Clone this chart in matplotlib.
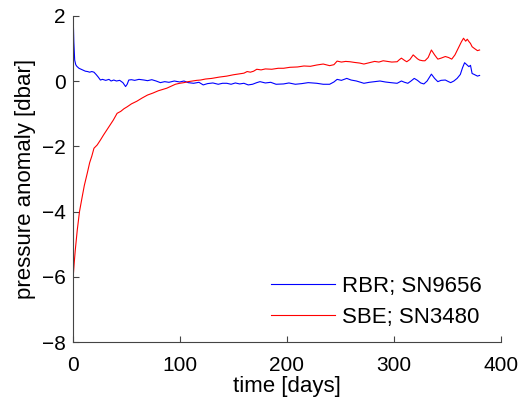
import matplotlib
matplotlib.use("Agg")
import matplotlib.pyplot as plt
import numpy as np

plt.rcParams['font.family'] = ['Liberation Sans', 'DejaVu Sans']

# RBR; SN9656
t_rbr = [0, 0.6, 1.2, 2, 3, 4, 6, 8, 10, 12, 14, 16, 18, 20, 22, 24, 26, 28, 31, 34, 36,
         38.5, 41, 44, 47, 49.5, 51, 52.5, 55, 58, 62, 66.7, 70, 74, 78, 82, 86, 90, 95, 100,
         104, 108, 113, 118, 122, 126, 131, 136, 140, 144, 148, 152, 156, 160, 164, 168,
         172, 175, 180, 185, 190, 197, 202, 208, 214, 220, 228, 234, 240, 244, 247, 251,
         256, 260, 265, 272, 277, 282, 287, 292, 297, 303, 307, 310, 313, 316, 319, 322,
         325, 328, 331, 335, 338, 341, 344, 348, 351, 353, 356, 359, 362, 364, 366, 368,
         370, 371.5, 373, 375, 378, 380]
v_rbr = [2.0, 1.97, 1.2, 0.64, 0.5, 0.45, 0.39, 0.36, 0.33, 0.3, 0.29, 0.27, 0.29, 0.27, 0.2,
         0.12, 0.03, 0.05, 0.02, 0.05, 0.0, 0.03, 0.0, 0.02, -0.05, -0.17, -0.1, 0.03, 0.04,
         0.02, 0.05, 0.03, 0.01, 0.04, 0.0, -0.05, -0.02, -0.04, 0.0, -0.03, 0.0, -0.05, -0.07,
         -0.04, -0.12, -0.08, -0.06, -0.1, -0.07, -0.07, -0.1, -0.06, -0.09, -0.07, -0.12,
         -0.1, -0.05, -0.02, -0.06, -0.04, -0.1, -0.09, -0.06, -0.1, -0.08, -0.05, -0.07,
         -0.1, -0.1, -0.03, 0.05, 0.02, 0.08, 0.03, 0.0, -0.07, -0.04, -0.02, 0.0, -0.03,
         -0.05, -0.07, 0.0, -0.04, -0.07, 0.0, 0.08, 0.02, -0.06, -0.09, 0.0, 0.21, 0.08,
         -0.02, 0.02, 0.03, -0.02, -0.05, 0.0, 0.08, 0.2, 0.4, 0.56, 0.5, 0.44, 0.48, 0.23,
         0.2, 0.15, 0.17]

# SBE; SN3480
t_sbe = [0, 0.6, 1.5, 2.5, 4.4, 6.5, 9, 11, 13.7, 16, 18, 20, 23, 26, 29, 32, 35, 38,
         41.6, 45, 48, 51, 55, 60, 65, 70, 75, 80, 84, 88, 92, 96, 100, 104, 108, 112,
         116, 119.6, 124, 130, 137, 144, 150, 156, 160, 163, 166, 169, 172, 176, 180, 186,
         192, 197, 203, 210, 216, 222, 228, 234, 240, 244, 247, 251, 255, 259, 263, 268,
         272, 277, 282, 286, 290, 294, 298, 303, 305, 307, 310, 312, 315, 318, 320, 322,
         324, 327, 329, 332, 335, 338, 341, 344, 348, 351, 354, 357, 360, 363, 365, 367,
         368.5, 370, 371.5, 373, 375, 378, 380]
v_sbe = [-6.0, -6.0, -5.6, -5.2, -4.57, -4.0, -3.55, -3.2, -2.83, -2.5, -2.3, -2.06, -1.96,
         -1.81, -1.65, -1.5, -1.35, -1.2, -0.99, -0.93, -0.85, -0.79, -0.7, -0.62, -0.52,
         -0.43, -0.37, -0.3, -0.26, -0.22, -0.16, -0.1, -0.07, -0.05, -0.02, 0.0, 0.02, 0.03,
         0.06, 0.08, 0.12, 0.15, 0.19, 0.22, 0.24, 0.29, 0.27, 0.3, 0.36, 0.34, 0.37, 0.36,
         0.39, 0.39, 0.42, 0.43, 0.46, 0.45, 0.49, 0.52, 0.47, 0.5, 0.61, 0.58, 0.6, 0.59,
         0.57, 0.55, 0.52, 0.56, 0.6, 0.58, 0.62, 0.6, 0.58, 0.59, 0.65, 0.7, 0.63, 0.59,
         0.66, 0.8, 0.74, 0.68, 0.64, 0.62, 0.62, 0.72, 0.95, 0.8, 0.67, 0.7, 0.75, 0.72,
         0.67, 0.8, 1.0, 1.2, 1.31, 1.22, 1.28, 1.21, 1.15, 1.05, 1.0, 0.93, 0.95]

fig = plt.figure(figsize=(5.2, 4.03), dpi=100)
ax = fig.add_axes([0.1395, 0.151, 0.824, 0.810])

ax.plot(t_rbr, v_rbr, color='#0000ff', lw=0.8, label='RBR; SN9656')
ax.plot(t_sbe, v_sbe, color='#ff0000', lw=0.8, label='SBE; SN3480')

ax.set_xlim(0, 400)
ax.set_ylim(-8, 2)
ax.set_xticks([0, 100, 200, 300, 400])
ax.set_yticks([-8, -6, -4, -2, 0, 2])
ax.spines['top'].set_visible(False)
ax.spines['right'].set_visible(False)
for s in ['left', 'bottom']:
    ax.spines[s].set_color('#444444')
    ax.spines[s].set_linewidth(0.8)
ax.tick_params(direction='in', length=4, width=0.8, color='#444444', labelsize=15)
ax.tick_params(axis='x', pad=10)
ax.tick_params(axis='y', pad=5)

ax.set_xlabel('time [days]', fontsize=16, labelpad=1)
ax.set_ylabel('pressure anomaly [dbar]', fontsize=16, labelpad=4)

ax.legend(loc='upper left', frameon=False, fontsize=16, handlelength=2.9,
          handletextpad=0.3, labelspacing=0.45, borderpad=0, borderaxespad=0,
          bbox_to_anchor=(271 / 520, 1 - 276 / 403), bbox_transform=fig.transFigure)

fig.savefig('out.png', dpi=100)
